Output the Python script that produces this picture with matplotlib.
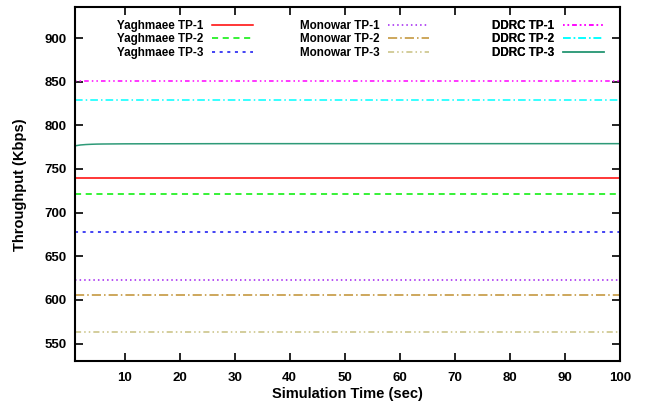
"""
Throughput of the nine traffic paths over the simulation run.
"""

from matplotlib import pyplot as plt
import numpy as np

plt.rcParams['font.family'] = ['Liberation Sans', 'DejaVu Sans']
plt.rcParams['font.weight'] = 'bold'

time = [1, 2, 3, 4, 5, 6, 8, 10, 20, 30, 40, 50, 60, 70, 80, 90, 100]

labels = ["Yaghmaee TP-1", "Yaghmaee TP-2", "Yaghmaee TP-3",
          "Monowar TP-1", "Monowar TP-2", "Monowar TP-3",
          "DDRC TP-1", "DDRC TP-2", "DDRC TP-3"]

yaghmaee_tp1 = [740] * 17
yaghmaee_tp2 = [721] * 17
yaghmaee_tp3 = [677.5] * 17
monowar_tp1 = [623] * 17
monowar_tp2 = [605.5] * 17
monowar_tp3 = [563.5] * 17
ddrc_tp1 = [850.5] * 17
ddrc_tp2 = [829] * 17
ddrc_tp3 = [776.5, 777.5, 778, 778.3, 778.5, 778.6, 778.7, 778.8, 778.9, 779, 779, 779, 779, 779, 779, 779, 779]

series = [yaghmaee_tp1, yaghmaee_tp2, yaghmaee_tp3,
          monowar_tp1, monowar_tp2, monowar_tp3,
          ddrc_tp1, ddrc_tp2, ddrc_tp3]

colors = ["#ff0000", "#00ee00", "#1010f0",
          "#a020f0", "#c09030", "#c8c080",
          "#ff00ff", "#00ffff", "#2e9a78"]
styles = ["-", (0, (4, 3)), (0, (2, 3)),
          (0, (1, 2)), (0, (6, 2, 1, 2)), (0, (4, 2, 1, 2, 1, 2)),
          (0, (1, 2, 1, 2, 3, 2)), (0, (5, 2, 1, 2)), "-"]

fig = plt.figure(figsize=(6.48, 4.07), dpi=100)
ax = fig.add_axes([0.1157, 0.113, 0.8411, 0.8686])

lines = []
for y, lab, c, ls in zip(series, labels, colors, styles):
    ln, = ax.plot(time, y, color=c, linestyle=ls, linewidth=1.1, label=lab)
    lines.append(ln)

ax.set_xlim(1, 100)
ax.set_ylim(530, 935)
ax.set_xticks(np.arange(10, 101, 10))
ax.set_yticks(np.arange(550, 901, 50))
ax.tick_params(direction="in", top=True, right=True, length=6, width=1.2,
               labelsize=9.5, pad=8)
ax.tick_params(axis="y", pad=6)
for sp in ax.spines.values():
    sp.set_linewidth(1.5)

ax.set_xlabel("Simulation Time (sec)", fontsize=10.5, fontweight="bold")
ax.set_ylabel("Throughput (Kbps)", fontsize=10.5, fontweight="bold")
ax.xaxis.set_label_coords(0.5, -0.073)
ax.yaxis.set_label_coords(-0.088, 0.5)

# one legend block per method, text right-aligned before the line sample
right_edges = [0.3266, 0.6495, 0.9706]
for k, xr in enumerate(right_edges):
    leg = ax.legend(handles=lines[3 * k:3 * k + 3], loc="upper right",
                    bbox_to_anchor=(xr, 0.965), frameon=False, markerfirst=False,
                    fontsize=8.4, handlelength=3.5, handletextpad=0.75,
                    labelspacing=0.12, borderpad=0, borderaxespad=0)
    ax.add_artist(leg)

fig.savefig("out.png", dpi=100)
